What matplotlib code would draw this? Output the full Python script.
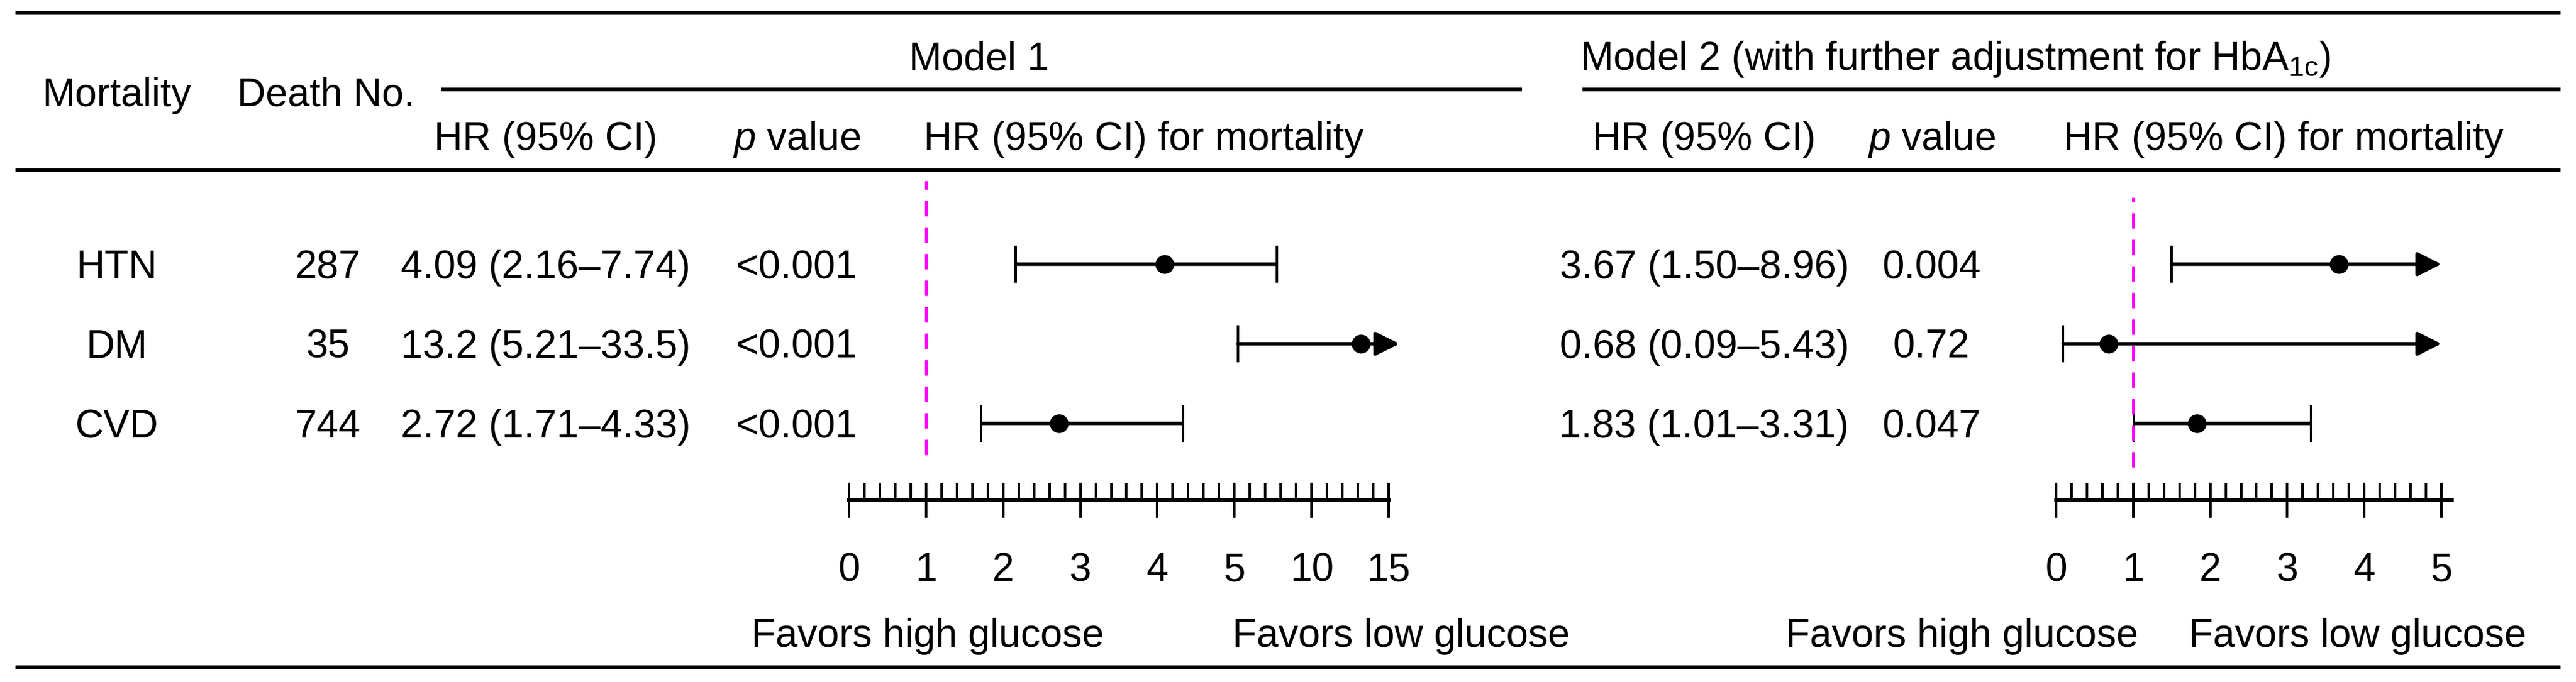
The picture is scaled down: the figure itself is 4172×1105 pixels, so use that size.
import matplotlib
matplotlib.use("Agg")
import matplotlib.pyplot as plt
from matplotlib.ticker import FixedLocator
import numpy as np

plt.rcParams['font.family'] = ['Liberation Sans', 'DejaVu Sans']
plt.rcParams['mathtext.fontset'] = 'custom'
plt.rcParams['mathtext.rm'] = 'Liberation Sans'
plt.rcParams['mathtext.it'] = 'Liberation Sans:italic'

outcomes = ["HTN", "DM", "CVD"]
deaths = [287, 35, 744]

m1_hr = [4.09, 13.2, 2.72]
m1_lo = [2.16, 5.21, 1.71]
m1_hi = [7.74, 33.5, 4.33]
m1_p = ["<0.001", "<0.001", "<0.001"]

m2_hr = [3.67, 0.68, 1.83]
m2_lo = [1.50, 0.09, 1.01]
m2_hi = [8.96, 5.43, 3.31]
m2_p = ["0.004", "0.72", "0.047"]

m1_ticks = [0, 1, 2, 3, 4, 5, 10, 15]
m2_ticks = [0, 1, 2, 3, 4, 5]

W, H = 4172, 1105
FS = 46          # font size, pt
PX = 0.72        # points per pixel at dpi 100
ROW0, STEP = 428, 129
AX_TOP, AX_BOT = 293, 810


def fmt(v):
    return f"{v:.1f}" if v >= 10 else f"{v:.2f}"


def fwd(x):
    x = np.asarray(x, dtype=float)
    return np.where(x <= 5, x, 5 + (x - 5) / 5)


def inv(t):
    t = np.asarray(t, dtype=float)
    return np.where(t <= 5, t, 5 + (t - 5) * 5)


def rect(x0, x1):
    return [x0 / W, 1 - AX_BOT / H, (x1 - x0) / W, (AX_BOT - AX_TOP) / H]


def forest(ax, hr, lo, hi, clip, ticks, ref_span):
    rows = np.arange(len(hr))
    lw = 5.5 * PX
    for i in rows:
        if hi[i] > clip:
            ax.annotate('', xy=(clip, i), xytext=(lo[i], i),
                        arrowprops=dict(arrowstyle='-|>', lw=lw, color='black',
                                        mutation_scale=60, shrinkA=0, shrinkB=0),
                        annotation_clip=False)
            caps = [lo[i]]
        else:
            ax.plot([lo[i], hi[i]], [i, i], color='black', lw=lw,
                    solid_capstyle='butt', clip_on=False)
            caps = [lo[i], hi[i]]
        ax.plot(caps, [i] * len(caps), ls='none', marker='|', ms=60 * PX,
                mew=4 * PX, color='black', clip_on=False)
    ax.plot(hr, rows, 'o', color='black', ms=29 * PX, clip_on=False, zorder=5)

    ax.axvline(1, ymin=ref_span[0], ymax=ref_span[1], color='#FF00FF',
               lw=5 * PX, ls=(0, (5.0, 3.6)), clip_on=False)

    ax.set_ylim(len(hr) - 1 + (AX_BOT - ROW0 - 2 * STEP) / STEP,
                -(ROW0 - AX_TOP) / STEP)
    ax.set_xlim(ticks[0], ticks[-1])
    ax.set_xticks(ticks)
    ax.set_xticklabels([str(t) for t in ticks])
    ax.set_yticks([])
    for s in ['top', 'left', 'right']:
        ax.spines[s].set_visible(False)
    ax.spines['bottom'].set_linewidth(6 * PX)
    ax.tick_params(axis='x', which='major', direction='inout', length=57 * PX,
                   width=4 * PX, pad=40, labelsize=FS)
    ax.tick_params(axis='x', which='minor', direction='in', length=27 * PX,
                   width=4 * PX)
    ax.patch.set_alpha(0)


fig = plt.figure(figsize=(W / 100, H / 100), dpi=100)

# overlay in pixel coordinates for the table text and rules
ax0 = fig.add_axes([0, 0, 1, 1])
ax0.set_xlim(0, W)
ax0.set_ylim(H, 0)
ax0.axis('off')

rule = 6 * PX
ax0.hlines([21, 276, 1081], 25, 4147, color='black', lw=rule)
ax0.hlines(144.5, 714, 2465, color='black', lw=rule)
ax0.hlines(144.5, 2563, 4147, color='black', lw=rule)

ax0.text(189, 172, "Mortality", fontsize=FS, ha='center', va='baseline')
ax0.text(528, 172, "Death No.", fontsize=FS, ha='center', va='baseline')
ax0.text(1586, 113, "Model 1", fontsize=FS, ha='center', va='baseline')
ax0.text(2559, 113, r"Model 2 (with further adjustment for HbA$_{\mathrm{1c}}$)",
         fontsize=FS, ha='left', va='baseline')

col_hr = [884, 2760]
col_p = [1290, 3128]
col_plot = [1496, 3342]
for k in range(2):
    ax0.text(col_hr[k], 243, "HR (95% CI)", fontsize=FS, ha='center', va='baseline')
    ax0.text(col_p[k], 243, "$p$ value", fontsize=FS, ha='center', va='baseline')
    ax0.text(col_plot[k], 243, "HR (95% CI) for mortality", fontsize=FS,
             ha='left', va='baseline')

for i, name in enumerate(outcomes):
    yb = ROW0 + 23 + STEP * i
    ax0.text(189, yb, name, fontsize=FS, ha='center', va='baseline')
    ax0.text(531, yb, str(deaths[i]), fontsize=FS, ha='center', va='baseline')
    ax0.text(col_hr[0], yb, f"{fmt(m1_hr[i])} ({fmt(m1_lo[i])}\u2013{fmt(m1_hi[i])})",
             fontsize=FS, ha='center', va='baseline')
    ax0.text(col_p[0], yb, m1_p[i], fontsize=FS, ha='center', va='baseline')
    ax0.text(col_hr[1], yb, f"{fmt(m2_hr[i])} ({fmt(m2_lo[i])}\u2013{fmt(m2_hi[i])})",
             fontsize=FS, ha='center', va='baseline')
    ax0.text(col_p[1], yb, m2_p[i], fontsize=FS, ha='center', va='baseline')

for x in [1217, 2892]:
    ax0.text(x, 1048, "Favors high glucose", fontsize=FS, ha='left', va='baseline')
for x in [1996, 3545]:
    ax0.text(x, 1048, "Favors low glucose", fontsize=FS, ha='left', va='baseline')

# Model 1 forest plot, broken scale above 5
ax1 = fig.add_axes(rect(1375, 2249))
ax1.set_xscale('function', functions=(fwd, inv))
forest(ax1, m1_hr, m1_lo, m1_hi, 15.7, m1_ticks,
       ((AX_BOT - 737) / (AX_BOT - AX_TOP), 1.0))
ax1.xaxis.set_minor_locator(FixedLocator(list(np.arange(0, 5, 0.2)) + list(range(6, 16))))

# Model 2 forest plot
ax2 = fig.add_axes(rect(3330, 3954))
forest(ax2, m2_hr, m2_lo, m2_hi, 5.0, m2_ticks,
       ((AX_BOT - 757) / (AX_BOT - AX_TOP), (AX_BOT - 320) / (AX_BOT - AX_TOP)))
ax2.xaxis.set_minor_locator(FixedLocator(np.arange(0, 5.01, 0.2)))
ax2.spines['bottom'].set_bounds(0, 5.14)

fig.savefig("out.png", dpi=100)
